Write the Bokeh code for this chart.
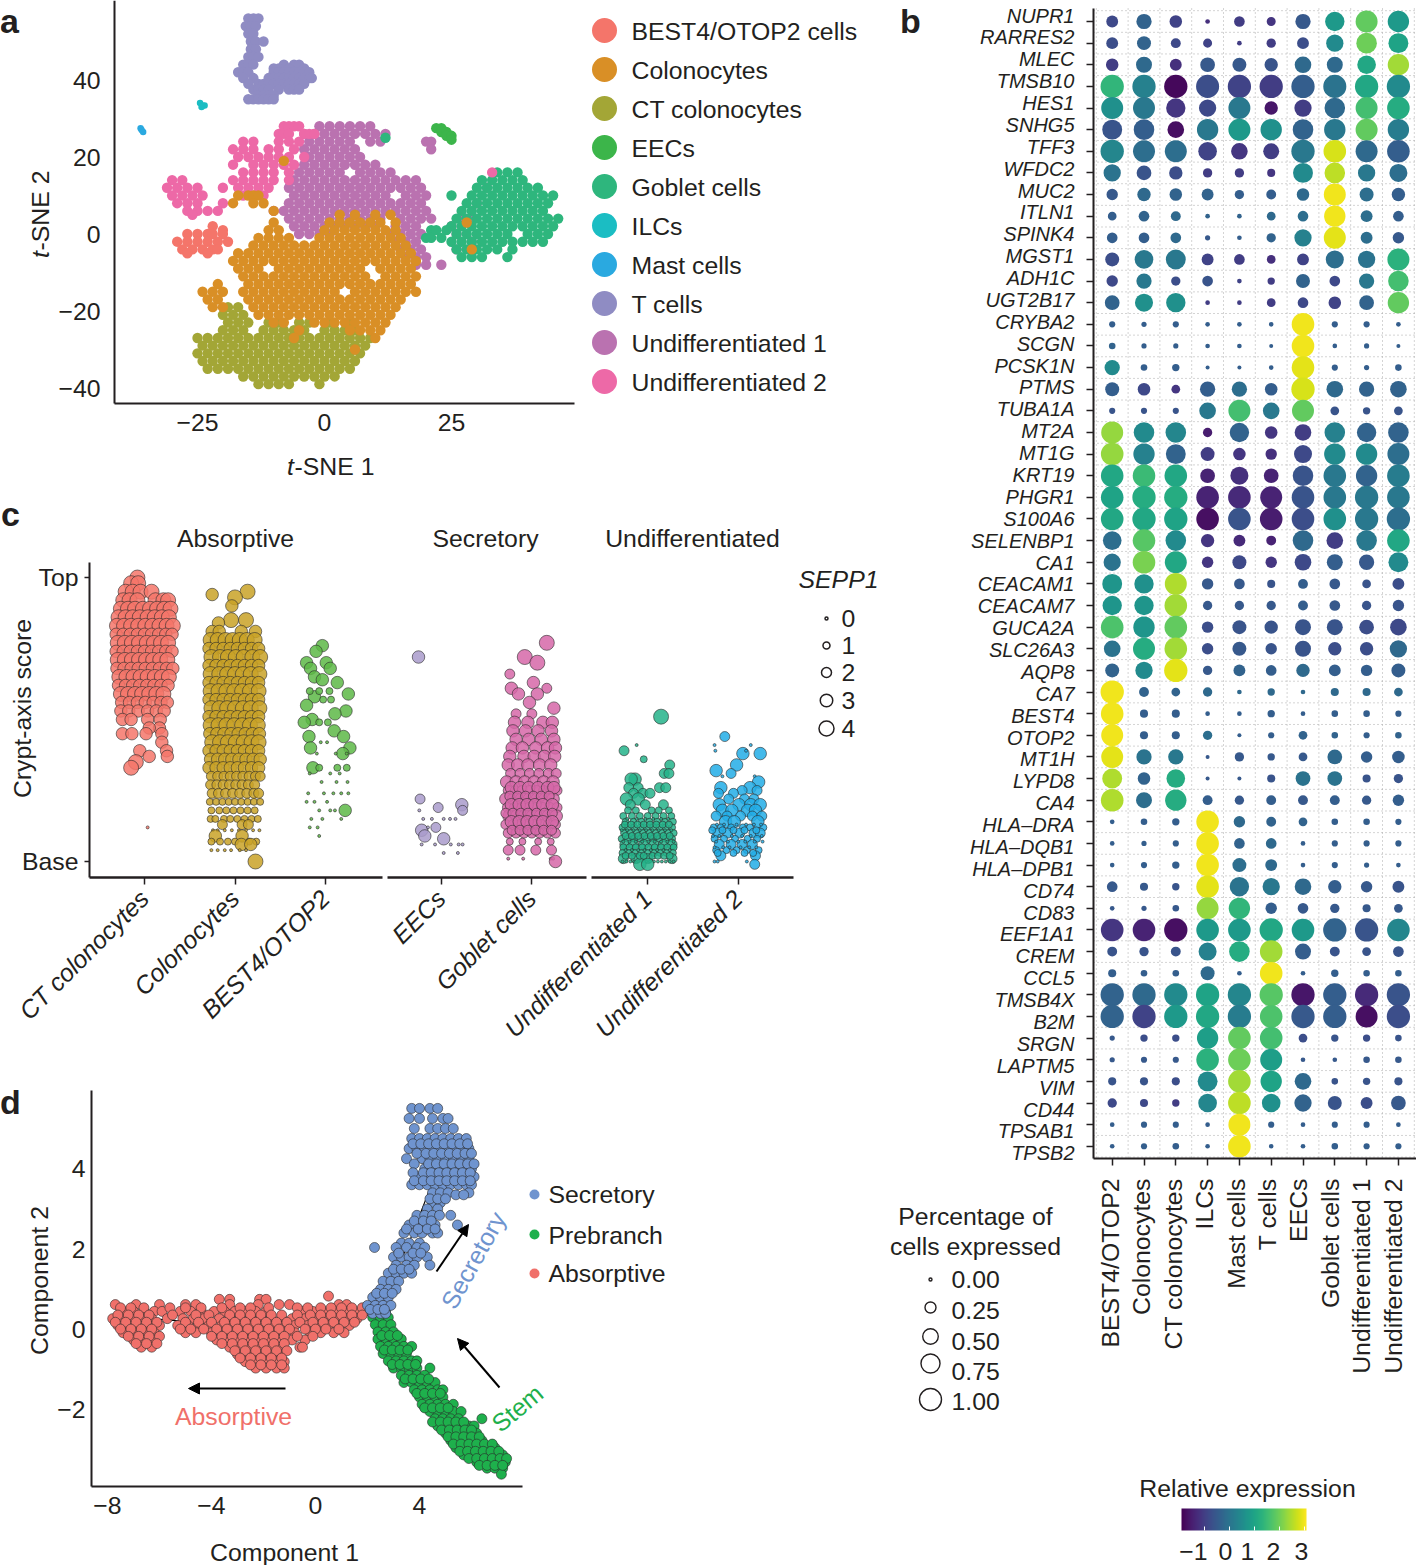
from math import sqrt, pi
from bokeh.plotting import figure
from bokeh.layouts import column, row
from bokeh.models import (Label, FixedTicker, LinearAxis, Range1d, ColumnDataSource, LinearColorMapper,
                          ColorBar, Arrow, NormalHead)
from bokeh.palettes import Viridis256
from bokeh.transform import transform
from bokeh.embed import file_html
from bokeh.resources import INLINE

INK = "#231f20"
FONT = "Liberation Sans"
FS = "24.8px"

# ---------- panel a: t-SNE, rows of (t-SNE 2, [t-SNE 1 ...]) ----------
cell_types = ["BEST4/OTOP2 cells", "Colonocytes", "CT colonocytes", "EECs", "Goblet cells", "ILCs",
              "Mast cells", "T cells", "Undifferentiated 1", "Undifferentiated 2"]
cell_colors = ["#f4756a", "#d98f26", "#a3a636", "#3cb54a", "#2eb67d", "#1bbdc3", "#2aa9e0", "#8f8cc3", "#ba72b0", "#ed69a7"]

tsne_best4 = [(2, [-22]), (1, [-20]), (0, [-27, -25, -23, -22, -20]), (-2, [-29, -27, -25, -23, -21, -19]),
              (-4, [-28, -26, -24, -22, -21]), (-5, [-27, -23])]
tsne_colono = [(5, [3, 6, 10, 13]), (3, [-10, 1, 3, 5, 7, 9, 11, 14, 28]), (1, [-11, -9, 0, 2, 4, 6, 8, 10, 12, 14]),
               (-1, [-13, -11, -9, -7, -1, 1, 3, 5, 7, 9, 11, 13, 15]),
               (-3, [-14, -12, -10, -8, -6, -4, -2, 0, 2, 4, 6, 8, 10, 12, 14, 16]),
               (-5, [-17, -15, -13, -11, -9, -7, -5, -3, -1, 1, 3, 5, 7, 9, 11, 13, 15, 17]),
               (-7, [-18, -16, -14, -12, -10, -8, -6, -4, -2, 0, 2, 4, 6, 8, 10, 12, 14, 16, 18]),
               (-9, [-17, -15, -13, -9, -7, -5, -3, -1, 1, 3, 5, 7, 11, 13, 15, 17]),
               (-11, [-16, -14, -12, -10, -8, -6, -4, -2, 0, 2, 4, 6, 8, 12, 14, 16, 18]),
               (-13, [-21, -15, -13, -11, -9, -7, -5, -3, -1, 1, 3, 5, 7, 9, 11, 13, 15, 17]),
               (-15, [-24, -22, -20, -16, -14, -12, -10, -8, -6, -4, -2, 0, 2, 6, 8, 10, 12, 14, 16, 18]),
               (-17, [-23, -21, -15, -13, -11, -9, -7, -5, -3, -1, 1, 3, 5, 7, 9, 11, 13, 15]),
               (-19, [-22, -20, -14, -12, -10, -8, -6, -4, -2, 0, 2, 4, 6, 8, 10, 12, 14]),
               (-21, [-13, -11, -9, -7, -5, -3, -1, 1, 3, 5, 7, 9, 11, 13]),
               (-23, [-10, -8, -2, 0, 2, 4, 6, 8, 10, 12]), (-25, [-5, 5, 7, 9, 11]), (-27, [-6, 10]), (-30, [6]),
               (10, [-17, -15, -14, -13]), (8, [-18, -14, -12]), (19, [-8]), (6, [-10]), (-4, [29])]
tsne_ct = [(-19, [-19, -17]), (-21, [-20, -18, -16]),
           (-23, [-19, -17, -15, -11, -9, -5, -3, 1, 5]),
           (-25, [-20, -18, -16, -12, -10, -8, -6, -4, 0, 2, 4, 6]),
           (-27, [-25, -23, -21, -19, -17, -15, -13, -11, -9, -7, -5, -3, -1, 1, 3, 5, 7, 9]),
           (-29, [-24, -22, -20, -18, -16, -14, -12, -10, -8, -6, -4, -2, 0, 2, 4, 6, 8]),
           (-31, [-25, -23, -21, -19, -17, -15, -13, -11, -9, -7, -5, -3, -1, 1, 3, 5, 7]),
           (-33, [-24, -22, -20, -18, -16, -14, -12, -10, -8, -6, -4, -2, 0, 2, 4, 6]),
           (-35, [-23, -21, -19, -17, -15, -13, -11, -9, -7, -5, -3, -1, 1, 3, 5]),
           (-37, [-16, -14, -12, -10, -8, -6, -4, -2, 0, 2]), (-39, [-13, -11, -9, -7, -1])]
tsne_eec = [(27.5, [22, 23]), (26.5, [23, 24]), (25.5, [24, 25]), (24.5, [25])]
tsne_goblet = [(16, [34, 36, 38]), (14, [31, 33, 35, 37, 39]), (12, [30, 32, 34, 36, 38, 40, 42]),
               (10, [25, 29, 31, 33, 35, 37, 39, 41, 43, 45]), (8, [28, 30, 32, 34, 36, 38, 40, 42, 44]),
               (6, [27, 29, 31, 33, 35, 37, 39, 41, 43]), (4, [26, 28, 30, 32, 34, 36, 38, 40, 42, 44, 46]),
               (2, [25, 27, 29, 31, 33, 35, 37, 39, 41, 43, 45]), (0, [26, 28, 30, 32, 34, 36, 40, 42, 44]),
               (-2, [25, 27, 29, 31, 33, 35, 37, 39, 41, 43]), (-4, [26, 28, 30, 32, 34, 37]), (-6, [27, 29, 31, 36]),
               (1, [21, 22, 24]), (-1, [20, 21, 23]), (25, [12])]
tsne_ilc = [(34, [-24.5]), (33.4, [-24, -23.6]), (33, [-24.2])]
tsne_mast = [(27.5, [-36.2]), (27, [-36]), (26.5, [-35.7])]
tsne_t = [(56, [-15, -14, -13]), (54, [-15.5, -14.5, -13.5]), (52, [-15, -14]), (50, [-14.5, -13.5, -12]),
          (48, [-14.5, -13.5]), (46, [-15, -14, -13]), (44, [-16, -15, -14, -8, -6, -5]),
          (43, [-10, -9, -7, -4]), (42, [-17, -16, -15, -10, -9, -8, -7, -6, -5, -4, -3]),
          (40.5, [-16, -14, -11, -10, -9, -8, -7, -6, -5, -4, -3, -2.5]),
          (39, [-15, -13, -12, -11, -10, -9, -8, -7, -6, -5, -4]), (37.5, [-14, -13, -12, -11, -9, -7, -6, -5]),
          (36, [-13, -12, -11, -10]), (35, [-15, -14, -13, -12, -11, -10])]
tsne_u1 = [(28, [-1, 1, 3, 5, 7, 9]), (26, [-4, -2, 0, 2, 4, 6, 8, 10, 12]), (24, [-3, -1, 1, 3, 5, 9, 11, 20, 21]),
           (22, [-4, -2, 0, 2, 4, 6, 21]), (20, [-3, -1, 1, 3, 5, 7]), (18, [-4, -2, 0, 2, 4, 6, 8, 10]),
           (16, [-5, -3, -1, 1, 3, 7, 9, 11, 13]), (14, [-6, -4, -2, 0, 2, 4, 6, 8, 10, 12, 14, 16, 18]),
           (12, [-7, -5, -3, -1, 1, 3, 5, 7, 9, 11, 13, 15, 17, 19, 32]),
           (10, [-6, -4, -2, 0, 2, 4, 6, 8, 10, 12, 16, 18, 20]),
           (8, [-7, -5, -3, -1, 1, 3, 5, 7, 9, 11, 13, 15, 17, 19, 30]),
           (6, [-10, -8, -6, -4, -2, 0, 2, 4, 6, 8, 10, 12, 14, 16, 18, 20]),
           (4, [-7, -5, -3, -1, 1, 3, 5, 7, 9, 11, 15, 17, 19, 21, 27, 29]),
           (2, [-6, -4, -2, 0, 2, 4, 6, 8, 10, 14, 16, 18, 25]), (0, [-5, -3, -1, 1, 13, 15, 17, 19, 26]),
           (-2, [14, 16, 18, 29]), (-4, [15, 17, 19, 26]), (-6, [16, 18, 20]), (-8, [18, 20, 23])]
tsne_u2 = [(28, [-8, -7, -6, -5]), (26, [-9, -8, -7, -4, -3, -2]), (24, [-16, -14, -9, -7, -5]),
           (22, [-18, -16, -14, -11, -9, -6]), (20, [-17, -15, -13, -11, -9, -7, -4]),
           (18, [-18, -14, -12, -10, -8, -6]), (16, [-16, -14, -12, -10, -7, 33]),
           (14, [-18, -16, -14, -12, -10, -7, -30, -28]), (12, [-17, -15, -13, -11, -31, -29, -27, -25, -20]),
           (10, [-16, -14, -12, -30, -28, -26, -24]), (8, [-29, -27, -25, -20]), (6, [-27, -25, -23, -21]), (5, [-26])]

# ---------- panel b: dot plot ----------
b_cells = ["BEST4/OTOP2", "Colonocytes", "CT colonocytes", "ILCs", "Mast cells", "T cells", "EECs", "Goblet cells",
           "Undifferentiated 1", "Undifferentiated 2"]
genes = ["NUPR1", "RARRES2", "MLEC", "TMSB10", "HES1", "SNHG5", "TFF3", "WFDC2", "MUC2", "ITLN1", "SPINK4", "MGST1",
         "ADH1C", "UGT2B17", "CRYBA2", "SCGN", "PCSK1N", "PTMS", "TUBA1A", "MT2A", "MT1G", "KRT19", "PHGR1", "S100A6",
         "SELENBP1", "CA1", "CEACAM1", "CEACAM7", "GUCA2A", "SLC26A3", "AQP8", "CA7", "BEST4", "OTOP2", "MT1H", "LYPD8",
         "CA4", "HLA\u2013DRA", "HLA\u2013DQB1", "HLA\u2013DPB1", "CD74", "CD83", "EEF1A1", "CREM", "CCL5", "TMSB4X",
         "B2M", "SRGN", "LAPTM5", "VIM", "CD44", "TPSAB1", "TPSB2"]
pct_expressed = [
    [26, 43, 29, 4, 21, 15, 43, 69, 89, 84], [26, 36, 18, 15, 4, 16, 26, 55, 78, 73],
    [29, 47, 26, 40, 36, 33, 51, 47, 64, 84], [100, 100, 100, 98, 100, 100, 100, 98, 100, 100],
    [89, 89, 69, 55, 89, 33, 55, 78, 89, 94], [73, 78, 51, 84, 89, 84, 78, 84, 89, 84],
    [100, 89, 89, 64, 51, 47, 100, 94, 89, 94], [55, 40, 33, 16, 16, 12, 73, 78, 55, 60],
    [24, 33, 29, 26, 16, 18, 29, 89, 36, 33], [14, 21, 18, 4, 4, 14, 21, 84, 26, 21],
    [21, 21, 21, 5, 4, 16, 55, 89, 26, 24], [36, 64, 73, 26, 21, 14, 26, 60, 55, 89],
    [24, 43, 16, 21, 4, 10, 36, 21, 43, 78], [40, 60, 69, 4, 4, 14, 21, 29, 40, 84],
    [7, 5, 7, 4, 4, 4, 94, 7, 7, 4], [8, 5, 5, 4, 4, 3, 94, 4, 5, 3],
    [43, 8, 10, 3, 3, 4, 94, 7, 5, 8], [36, 29, 14, 43, 43, 29, 100, 51, 43, 51],
    [7, 7, 7, 51, 89, 51, 89, 14, 10, 14], [89, 78, 78, 16, 69, 29, 51, 78, 69, 78],
    [94, 84, 73, 36, 29, 24, 60, 84, 84, 89], [94, 94, 94, 40, 60, 40, 78, 94, 84, 94],
    [94, 100, 100, 94, 94, 89, 94, 94, 100, 94], [94, 100, 100, 94, 94, 94, 94, 94, 100, 100],
    [64, 94, 78, 33, 26, 18, 78, 51, 78, 94], [55, 94, 89, 24, 36, 24, 51, 47, 43, 73],
    [73, 69, 89, 24, 21, 12, 18, 21, 14, 26], [69, 69, 94, 16, 16, 16, 18, 21, 16, 24],
    [94, 84, 94, 24, 36, 33, 47, 47, 40, 51], [51, 89, 94, 24, 36, 24, 47, 33, 33, 55],
    [36, 55, 100, 16, 26, 21, 33, 26, 24, 36], [100, 18, 14, 16, 4, 10, 4, 12, 12, 14],
    [94, 12, 12, 4, 4, 10, 4, 8, 8, 7], [89, 12, 12, 16, 3, 7, 14, 8, 7, 8],
    [89, 43, 43, 3, 16, 10, 14, 40, 24, 29], [73, 29, 64, 3, 3, 12, 40, 40, 12, 16],
    [94, 47, 84, 18, 16, 18, 18, 18, 16, 24], [4, 8, 10, 94, 24, 18, 14, 8, 8, 7],
    [4, 5, 7, 94, 21, 21, 4, 7, 7, 7], [4, 7, 10, 94, 36, 26, 4, 7, 5, 4],
    [21, 12, 10, 94, 69, 55, 51, 33, 24, 26], [4, 5, 8, 89, 84, 24, 21, 16, 12, 14],
    [94, 94, 100, 94, 94, 100, 94, 100, 100, 94], [18, 16, 18, 60, 78, 94, 47, 18, 14, 21],
    [12, 8, 8, 36, 4, 94, 4, 10, 8, 8], [100, 100, 100, 100, 100, 100, 100, 100, 100, 100],
    [100, 100, 100, 100, 100, 94, 100, 100, 89, 100], [5, 10, 10, 84, 94, 94, 14, 10, 10, 8],
    [5, 7, 7, 94, 94, 89, 4, 4, 8, 8], [12, 12, 12, 73, 94, 84, 51, 8, 10, 12],
    [16, 12, 10, 64, 94, 64, 55, 36, 26, 40], [4, 7, 7, 4, 89, 7, 4, 7, 7, 4], [4, 7, 8, 4, 94, 4, 4, 8, 7, 7]]
rel_expression = [
    [-.8, -.3, -.9, -1.2, -1, -1.1, -.5, .8, 1.9, .8], [-.7, -.3, -.8, -.9, -1, -1, -.7, .5, 2, 1],
    [-1, -.2, -1.2, -.5, -.5, -.6, -.2, -.2, 1.1, 2.4], [1.4, .3, -1.8, -.7, -.9, -1, -.4, 0, 1.1, .5],
    [.6, .1, -1.1, -.8, .1, -1.6, -1, -.2, 1.6, 1.2], [-.6, -.4, -1.7, .1, .8, .6, -.3, .1, 1.9, .2],
    [.4, -.1, -.1, -.9, -1.1, -1, .1, 2.8, -.2, -.4], [0, -.6, -.7, -1, -1, -1.1, .5, 2.6, .1, -.1],
    [-.5, -.2, -.3, -.3, -.4, -.4, -.2, 3, -.1, -.4], [-.4, -.3, -.2, -.3, -.3, -.2, -.1, 3, -.1, -.4],
    [-.4, -.4, -.2, -.5, -.4, -.3, .3, 2.9, -.1, -.5], [-.7, .1, .1, -.9, -1, -1.2, -.9, -.1, 0, 1.3],
    [-.8, .1, -.7, -.6, -.9, -1, -.3, -.8, .1, 1.6], [-.3, .6, .6, -1, -1, -1, -.8, -.9, -.3, 1.9],
    [-.4, -.4, -.4, -.4, -.4, -.4, 3, -.4, -.4, -.4], [-.3, -.4, -.4, -.4, -.4, -.4, 3, -.4, -.4, -.4],
    [.5, -.4, -.4, -.4, -.4, -.4, 2.9, -.4, -.4, -.4], [-.4, -.8, -1.1, -.4, -.1, -.4, 2.8, -.2, -.3, -.3],
    [-.6, -.6, -.6, .1, 1.6, .1, 1.9, -.6, -.6, -.6], [2.3, .5, .4, -1.5, -.3, -1.1, -1, .3, -.3, -.3],
    [2.3, .3, -.3, -1, -1.1, -1.2, -.8, .5, .5, -.1], [1.1, 1.5, 1.1, -1.4, -1.2, -1.4, -.6, .1, -.3, .2],
    [1, 1.2, 1.2, -1.4, -1.3, -1.4, -.6, .1, .1, .1], [1.1, 1.1, 1, -1.7, -.6, -1.5, -.7, .6, .1, -.1],
    [-.1, 1.8, .5, -1.1, -1.3, -1.4, -.2, -1, .1, 1.1], [0, 2.1, 1.1, -1.1, -.8, -1.1, -.8, -.4, -.5, .5],
    [.7, .6, 2.5, -.5, -.5, -.6, -.4, -.5, -.6, -.7], [.7, .7, 2.4, -.5, -.5, -.5, -.4, -.5, -.6, -.6],
    [1.7, .7, 1.9, -.7, -.6, -.6, -.6, -.6, -.7, -.8], [0, 1.2, 2.4, -.7, -.5, -.6, -.6, -.7, -.7, -.2],
    [-.3, .5, 2.9, -.5, -.3, -.4, -.2, -.4, -.4, -.4], [3, -.3, -.3, -.2, -.2, -.2, -.2, -.2, -.2, -.2],
    [3, -.4, -.4, -.4, -.4, -.4, -.4, -.4, -.4, -.4], [3, -.4, -.4, -.1, -.4, -.4, -.3, -.3, -.4, -.3],
    [2.9, 0, .1, -.5, -.5, -.5, -.5, -.2, -.4, -.4], [2.5, -.3, 1.2, -.5, -.5, -.6, 0, 0, -.6, -.6],
    [2.5, -.1, 1.2, -.4, -.5, -.4, -.5, -.4, -.5, -.4], [-.4, -.4, -.4, 3, -.2, -.3, -.3, -.4, -.4, -.4],
    [-.4, -.4, -.4, 3, -.3, -.2, -.4, -.4, -.4, -.4], [-.4, -.4, -.4, 3, -.1, -.2, -.4, -.4, -.4, -.4],
    [-.5, -.5, -.6, 2.9, 0, .1, -.2, -.4, -.5, -.6], [-.5, -.5, -.5, 2.3, 1.4, -.4, -.5, -.5, -.5, -.5],
    [-1.1, -1.4, -1.7, .8, .8, 1.1, .8, -.3, -.6, .4], [-.6, -.6, -.6, .3, 1.2, 2.4, -.4, -.6, -.6, -.6],
    [-.4, -.4, -.4, -.2, -.4, 3, -.4, -.4, -.4, -.4], [-.3, -.2, .5, 1, .4, 1.8, -1.6, -.4, -1.3, -.6],
    [-.3, -.9, .8, 1.1, .2, 1.7, -.5, -.4, -1.7, -.7], [-.5, -.7, -.7, .9, 1.9, 1.6, -.7, -.6, -.7, -.6],
    [-.5, -.5, -.5, 1.3, 2, .9, -.5, -.5, -.5, -.5], [-.6, -.6, -.7, .5, 2.4, 1, -.2, -.6, -.6, -.6],
    [-.8, -.8, -1, .4, 2.6, .6, -.3, -.6, -.7, -.5], [-.4, -.4, -.4, -.4, 3, -.4, -.4, -.4, -.4, -.4],
    [-.4, -.4, -.4, -.4, 3, -.4, -.4, -.4, -.4, -.4]]
pct_legend = [0.0, 0.25, 0.5, 0.75, 1.0]
expr_ticks = [-1, 0, 1, 2, 3]

# ---------- panel c: rows of (crypt-axis score, SEPP1 level, [jitter in hundredths]) ----------
c_groups = ["CT colonocytes", "Colonocytes", "BEST4/OTOP2", "EECs", "Goblet cells", "Undifferentiated 1", "Undifferentiated 2"]
c_slots = [1, 2, 3, 4.28, 5.28, 6.56, 7.56]
c_colors = ["#f4756a", "#c9a227", "#5db946", "#a99bcb", "#d667a8", "#25b38a", "#22ade6"]
ct_scores = [(100, 4, [-9]), (98, 4, [-17, -8]), (95, 4, [-24, -15, -5, 9]), (92, 4, [-27, -19, -9, 14, 24, 30]),
             (89, 4, [-30, -21, -12, -2, 7, 16, 25, 33]), (86, 4, [-33, -24, -15, -6, 4, 13, 22, 31]),
             (83, 4, [-35, -26, -17, -8, 1, 10, 19, 28, 36]), (80, 3, [-36, -27, -18, -9, 0, 9, 18, 27, 35]),
             (77, 4, [-34, -25, -16, -7, 3, 12, 21, 30]), (74, 3, [-36, -27, -18, -9, 0, 9, 18, 27, 35]),
             (71, 4, [-34, -25, -16, -7, 2, 11, 20, 29]), (68, 3, [-35, -26, -17, -8, 1, 10, 19, 28, 36]),
             (65, 4, [-32, -23, -14, -5, 4, 13, 22, 31]), (62, 3, [-33, -24, -15, -6, 3, 12, 21, 30]),
             (59, 4, [-30, -21, -12, -3, 6, 15, 24]), (56, 3, [-29, -19, -9, 1, 11, 21, 29]),
             (53, 3, [-30, -20, -8, 4, 15, 25]), (50, 3, [-28, -17, 4, 20]), (47, 3, [19, 6]),
             (45, 3, [-28, -16, 2, 22]), (42, 3, [22]), (39, 3, [-6, 28]), (37, 3, [6, 29]), (35, 4, [-11]), (33, 4, [-17]),
             (12, 0, [4])]
col_scores = [(95, 4, [16]), (94, 3, [-29]), (93, 4, [0]), (90, 3, [-4]), (85, 4, [-5, 14]), (84, 3, [-21]),
              (81, 3, [-29, -20, 8, 26]), (78, 4, [-31, -22, -12, -3, 6, 15, 25]),
              (75, 3, [-33, -24, -15, -6, 3, 12, 21, 30]), (72, 4, [-30, -19, -9, 1, 11, 22, 32]),
              (69, 3, [-33, -24, -15, -6, 3, 12, 21, 30]), (66, 4, [-31, -20, -10, 0, 10, 20, 31]),
              (63, 3, [-33, -24, -15, -6, 3, 12, 21, 30]), (60, 4, [-31, -21, -11, -1, 9, 19, 30]),
              (57, 3, [-33, -24, -15, -6, 3, 12, 21, 30]), (54, 4, [-30, -20, -10, 0, 10, 20, 31]),
              (51, 3, [-33, -24, -15, -6, 3, 12, 21, 30]), (48, 4, [-31, -21, -11, -1, 9, 19, 29]),
              (45, 3, [-32, -23, -14, -5, 4, 13, 22, 31]), (42, 4, [-29, -19, -9, 1, 11, 21, 30]),
              (39, 3, [-33, -24, -15, -6, 3, 12, 21, 30]), (36, 3, [-31, -22, -13, -4, 5, 14, 23, 32]),
              (33, 3, [-33, -24, -15, -6, 3, 12, 21, 30]), (30, 2, [-30, -22, -14, -6, 2, 10, 18, 26, 32]),
              (27, 2, [-31, -23, -15, -7, 1, 9, 17, 25]), (24, 2, [-29, -21, -12, -3, 6, 15, 24, 30]),
              (21, 1, [-32, -24, -16, -8, 0, 8, 16, 24, 32]), (18, 1, [-30, -20, -11, -2, 7, 16, 25]),
              (15, 1, [-31, -25, -14, -6, 3, 12, 21, 29]), (13, 2, [-16, 9, 17]), (11, 0, [-28, -22, -13, -4, 5, 14, 23, 31]),
              (9, 3, [-25, 9]), (7, 1, [-30, -19, -9, 0, 18, 27]), (6, 3, [8, 20]), (4, 0, [-30, -22, -13, -5, 6, 14]),
              (0, 4, [26])]
best4_scores = [(76, 3, [-4]), (74, 3, [-12]), (70, 3, [-24, 1]), (68, 3, [-19, 6]), (65, 3, [-14]), (64, 3, [-4]),
                (63, 3, [15]), (59, 3, [29]), (58, 3, [-14]), (55, 3, [-24]), (53, 3, [26]), (52, 3, [12]), (50, 3, [-17]),
                (49, 3, [-27]), (46, 3, [11]), (44, 3, [-21, 23]), (40, 3, [-19, 31]), (38, 3, [22]), (33, 3, [-16]), (18, 3, [25]),
                (60, 1, [-20, -8, 5]), (57, 1, [-3, 7]), (49, 1, [-8, 3]), (42, 0, [-6, 2]), (38, 0, [-11, 13, 27]),
                (33, 1, [-8, 15, 27]), (31, 0, [-20, 6, 18]), (28, 0, [-5, 14, 28]), (24, 0, [-22, -2, 10, 20, 29]),
                (21, 0, [-24, -14, 2]), (18, 0, [-8, 6, 12]), (15, 0, [-18, -4, 20]), (12, 0, [-20, -10]), (9, 0, [-8])]
eec_scores = [(72, 3, [-29]), (22, 2, [-27]), (20, 3, [26]), (19, 2, [-4]), (18, 2, [27]), (11, 3, [-25]), (9, 3, [-21]),
              (12, 2, [-7]), (8, 3, [3]), (18, 0, [-28]), (15, 0, [-23, -12, 3, 11, 18]), (12, 0, [-17]),
              (6, 0, [-25, -8, 12, 22, 27]), (3, 0, [3, 21])]
goblet_scores = [(77, 4, [19]), (72, 4, [-9]), (70, 4, [7]), (66, 2, [-28]), (63, 3, [2]), (61, 2, [19]), (61, 3, [-26]),
                 (59, 3, [7, -17]), (56, 3, [-3]), (54, 3, [28]), (52, 2, [-20, 0]), (49, 3, [-22, -5, 14, 26]),
                 (46, 3, [-24, -8, 8, 25]), (43, 3, [-20, -4, 12, 28]), (40, 3, [-25, -12, 5, 20, 30]),
                 (37, 3, [-28, -10, 3, 16, 29]), (34, 3, [-30, -18, -5, 10, 24]), (31, 2, [-27, -15, -3, 9, 21, 31]),
                 (28, 3, [-32, -20, -9, 3, 15, 27]), (25, 2, [-30, -21, -12, -3, 6, 15, 24, 32]),
                 (22, 3, [-33, -23, -13, -3, 7, 17, 27]), (19, 2, [-31, -22, -13, -4, 5, 14, 23, 32]),
                 (16, 3, [-29, -19, -9, 1, 11, 21, 31]), (13, 2, [-33, -24, -15, -6, 3, 12, 21, 30]),
                 (10, 2, [-30, -20, -10, 0, 10, 20, 30]), (7, 1, [-28, -12, 8, 24]), (4, 2, [-30, -15, 5, 25]),
                 (1, 0, [-30, -11, 24, 27]), (0, 3, [30]),
                 (26, 3, [-26, -15, -4, 8, 20, 28]), (23, 2, [-28, -18, -8, 2, 12, 22]), (20, 3, [-26, -16, -6, 4, 14, 26]),
                 (17, 2, [-33, -24, -14, -5, 6, 16, 26]), (14, 3, [-26, -16, -6, 4, 14, 26]), (11, 2, [-25, -15, -5, 5, 15, 25])]
u1_scores = [(51, 4, [17]), (39, 2, [-30]), (41, 0, [-14]), (36, 1, [-5]), (34, 2, [28]), (31, 2, [21, 27]), (29, 3, [-16, -21]),
             (26, 2, [-24, -12, 15, 23]), (24, 2, [-18, -6, 3]), (22, 3, [-27, -12]), (20, 2, [-22, -3, 20]),
             (18, 1, [-25, -15, 5, 14, 27]), (16, 1, [-31, -20, -10, 0, 10, 20, 30]), (14, 1, [-28, -18, -8, 2, 12, 22, 32]),
             (12, 1, [-32, -25, -17, -9, -1, 7, 15, 23, 31]), (10, 1, [-30, -22, -14, -6, 2, 10, 18, 26, 33]),
             (8, 1, [-33, -25, -17, -9, -1, 7, 15, 23, 31]), (6, 2, [-29, -18, -5, 8, 20, 31]),
             (5, 1, [-31, -23, -15, -7, 1, 9, 17, 25, 33]), (3, 1, [-32, -24, -16, -8, 0, 8, 16, 24, 32]),
             (1, 2, [-31, -15, 0, 31]), (0, 0, [-32, -27, -22, -17, -12, -7, -2, 3, 8, 13, 18, 23, 28, 33]), (-1, 3, [-10, 0]),
             (15, 0, [-26, -14, -3, 7, 17, 26]), (13, 1, [-29, -21, -13, -5, 3, 11, 19, 27]), (11, 0, [-33, -26, -18, -10, -2, 6, 14, 22, 30]),
             (9, 1, [-28, -20, -12, -4, 4, 12, 20, 28]), (7, 0, [-31, -23, -15, -7, 1, 9, 17, 25, 33]),
             (4, 0, [-28, -20, -12, -4, 4, 12, 20, 28]), (2, 1, [-28, -20, -10, -5, 6, 13, 21, 28])]
u2_scores = [(44, 2, [-17]), (41, 0, [-30, 16]), (38, 3, [28, 6]), (39, 0, [-29, 10]), (34, 3, [-2]), (32, 3, [-28]), (31, 2, [-9]),
             (30, 0, [21, -20]), (28, 3, [26]), (26, 3, [-22, 15]), (25, 2, [5, 24]), (24, 2, [-25, -6]),
             (22, 2, [-12, 8, 20]), (20, 3, [-24, 1, 16, 28]), (18, 3, [-20, -8, 12, 22]), (16, 2, [-28, -14, 3, 18, 30]),
             (14, 3, [-16, -5, 25]), (12, 1, [-31, -22, -9, 6, 15, 32]), (10, 2, [-26, -13, 2, 20, 28]),
             (8, 1, [-30, -18, -4, 12, 24]), (6, 2, [-24, -9, 5, 18]), (4, 1, [-28, -15, -2, 11, 26]), (2, 2, [-22, 22]),
             (0, 0, [-30, -26, 11]), (-1, 2, [21]),
             (13, 0, [-27, -18, -2, 10, 20, 29]), (11, 1, [-33, -20, -6, 8, 23]), (9, 0, [-32, -24, -8, 5, 16, 30]),
             (7, 0, [-28, -13, 0, 9, 21, 31]), (5, 0, [-30, -19, -11, 3, 14, 23]), (3, 1, [-26, -6, 8, 19])]
sepp1_levels = [0, 1, 2, 3, 4]

# ---------- panel d: rows of (component 2, [component 1 ...]) ----------
state_names = ["Secretory", "Prebranch", "Absorptive"]
state_colors = ["#6f94cf", "#1eb04c", "#f0706a"]
secretory = [(5.5, [3.7, 4, 4.4, 4.7]), (5.25, [3.6, 4, 4.5, 4.9, 5.1]), (5, [3.8, 4.4, 4.7, 5, 5.3]),
             (4.75, [3.7, 4, 4.3, 4.6, 4.9, 5.2, 5.5, 5.8]), (4.5, [3.6, 3.9, 4.2, 4.5, 4.8, 5.1, 5.4, 5.7, 5.9]),
             (4.25, [3.5, 4.1, 4.4, 4.7, 5, 5.3, 5.6, 5.9]), (4, [4.2, 4.5, 4.8, 5.1, 5.4, 5.7, 6]),
             (3.8, [3.9, 4.3, 4.6, 4.9, 5.2, 5.5, 5.8, 6.1]), (3.6, [3.7, 4, 4.3, 4.6, 4.9, 5.2, 5.5, 5.8, 6]),
             (3.4, [4.5, 4.8, 5.1, 5.9]), (3.35, [5.4, 5.7]), (3.15, [4.5, 4.8]), (3, [4.3, 4.7]), (2.84, [3.9, 4.2, 4.5, 4.77, 5.2]),
             (2.6, [3.6, 4, 4.3, 4.6, 5.46]), (2.4, [3.4, 3.8, 4.1, 4.5, 4.7]), (2.15, [3.3, 3.6, 4]),
             (2.04, [2.27, 3.1, 3.5, 3.9, 4.2]), (1.8, [3, 3.3, 3.6, 3.9, 4.3]), (1.6, [3.1, 3.5, 3.8, 4.4]),
             (1.4, [2.8, 3.1, 3.4, 3.7]), (1.2, [2.6, 2.9, 3.2]), (1, [2.5, 2.8, 3.1]), (.8, [2.2, 2.5, 2.8]),
             (.6, [2, 2.3, 2.6, 2.9]), (.4, [2.2, 2.5, 2.7]),
             (4.62, [3.75, 4.05, 4.35, 4.65, 4.95, 5.25, 5.55, 5.85]), (4.38, [3.9, 4.25, 4.55, 4.85, 5.15, 5.45, 5.75, 6]),
             (4.12, [3.8, 4.35, 4.65, 4.95, 5.25, 5.55, 5.85, 6.1]), (3.9, [3.75, 4.15, 4.45, 4.75, 5.05, 5.35, 5.65, 5.95]),
             (3.7, [3.8, 4.15, 4.45, 4.75, 5.05, 5.35, 5.65, 5.95]), (3.25, [4.4, 4.7, 5]), (2.7, [3.8, 4.15, 4.45]),
             (2.5, [3.5, 3.95, 4.3, 4.6]), (1.9, [3.2, 3.75, 4.05]), (1.5, [3, 3.3, 3.6]), (.9, [2.35, 2.65, 2.95]), (.5, [2.1, 2.4, 2.65])]
prebranch = [(.47, [2.3, 2.7]), (.3, [2.2, 2.5, 2.8]), (.12, [2.3, 2.6, 2.9]), (-.06, [2.4, 2.7, 3]), (-.24, [2.4, 2.7, 3, 3.3]),
             (-.42, [2.5, 2.8, 3.1, 3.4, 3.7]), (-.6, [2.6, 2.9, 3.2, 3.5]), (-.78, [2.8, 3.1, 3.4, 3.7, 3.9]),
             (-.96, [3, 3.3, 3.6, 3.9, 4.4]), (-1.14, [3.3, 3.6, 3.9, 4.2]), (-1.32, [3.4, 3.7, 4, 4.3, 4.6]),
             (-1.5, [3.8, 4.1, 4.4, 4.7, 4.9]), (-1.68, [4, 4.3, 4.6, 4.9]), (-1.86, [4.1, 4.4, 4.7, 5, 5.3]),
             (-2.04, [4.4, 4.7, 5, 5.3, 5.6]), (-2.22, [4.6, 4.9, 5.2, 5.5, 6.4]), (-2.4, [4.7, 5, 5.3, 5.6, 5.9, 6.1]),
             (-2.58, [5, 5.3, 5.6, 5.9, 6.2]), (-2.76, [5.2, 5.5, 5.8, 6.1, 6.4]), (-2.94, [5.4, 5.7, 6, 6.3, 6.6, 6.9]),
             (-3.12, [5.7, 6, 6.3, 6.6, 6.9, 7.2]), (-3.3, [6.2, 6.5, 6.8, 7.1, 7.3]), (-3.45, [6.6, 6.9, 7.2]), (-3.6, [7.15]),
             (-2.3, [4.5, 4.8, 5.1, 5.4, 5.7]), (-2.5, [4.85, 5.15, 5.45, 5.75, 6]), (-2.67, [5.1, 5.4, 5.7, 6, 6.3]),
             (-2.85, [5.3, 5.6, 5.9, 6.2, 6.5, 6.8]), (-3.03, [5.55, 5.85, 6.15, 6.45, 6.75, 7.05]),
             (-3.21, [5.9, 6.2, 6.5, 6.8, 7.1, 7.35]), (-3.38, [6.3, 6.6, 6.9, 7.2]), (-1.95, [4.2, 4.5, 4.8, 5.1]),
             (-1.59, [3.9, 4.2, 4.5, 4.8]), (-1.23, [3.45, 3.75, 4.05, 4.35]), (-.87, [2.95, 3.25, 3.55, 3.85]),
             (-.51, [2.65, 2.95, 3.25, 3.55]), (-.15, [2.55, 2.85, 3.15])]
absorptive = [(.83, [.5]), (.75, [-3.7, -3.3, -2.15, -1.9]), (.62, [-7.7, -6.9, -6, -5, -4.6, -3.3, -2.2, -1.4, -1, .9, 1.2]),
              (.45, [-7.4, -7, -6.6, -6.2, -5.9, -5.2, -4.8, -4.4, -3.9, -3.5, -3.1, -2.7, -2.3, -1.9, -.5, -.1, .3, .7, 1.1, 1.5, 1.9]),
              (.27, [-7.8, -7.5, -7.1, -6.7, -6.3, -5.7, -5.1, -4.7, -4.3, -3.7, -3.3, -2.9, -2.5, -2.1, -1.7, -1.3, -.9, -.4, 0, .4, .8, 1.2, 1.6]),
              (.1, [-7.6, -7.2, -6.8, -6.4, -6, -5.3, -4.9, -4.5, -4.1, -3.6, -3.2, -2.8, -2.4, -2, -1.6, -1.2, -.8, -.3, .1, .5, .9, 1.3]),
              (-.08, [-7.4, -7, -6.6, -6.2, -5, -4.6, -4, -3.6, -3.2, -2.8, -2.4, -2, -1.6, -1.2, -.8, -.2, .2, .7, 1.1]),
              (-.26, [-7, -6.6, -6.2, -3.8, -3.4, -3, -2.6, -2.2, -1.8, -1.4, -.9, -.4]),
              (-.44, [-6.7, -6.3, -3.3, -2.9, -2.5, -2.1, -1.7, -1.3, -.6, -.5]),
              (-.62, [-3, -2.6, -2.2, -1.8, -1.4]), (-.8, [-2.7, -2.3, -1.9, -1.5, -1.2]), (-.96, [-2.3, -1.9, -1.5, -1.2]),
              (.54, [-7.5, -7.1, -6.6, -5.6, -5, -4.4, -3.6, -2.9, -2.5, -1.8, -.7, -.3, .2, .6, 1, 1.4, 1.8]),
              (.36, [-7.6, -7.2, -6.8, -6.4, -5.5, -4.6, -4.1, -3.3, -2.9, -2.5, -2.1, -1.7, -1.3, -.7, -.2, .2, .6, 1, 1.4, 1.8]),
              (.18, [-7.7, -7.3, -6.9, -6.5, -6.1, -5, -4.5, -4, -3.5, -3.1, -2.7, -2.3, -1.9, -1.5, -1.1, -.6, -.1, .3, .7, 1.1, 1.5]),
              (.01, [-7.5, -7.1, -6.7, -6.3, -5.2, -4.8, -4.3, -3.8, -3.4, -3, -2.6, -2.2, -1.8, -1.4, -1, -.4, 0, .4, .9]),
              (-.17, [-7.2, -6.8, -6.4, -6, -4, -3.6, -3.2, -2.8, -2.4, -2, -1.6, -1.2, -.7, -.1]),
              (-.35, [-6.9, -6.5, -6.1, -3.6, -3.2, -2.8, -2.4, -2, -1.6, -1.2]),
              (-.53, [-3.1, -2.7, -2.3, -1.9, -1.5, -1.1]), (-.71, [-2.9, -2.5, -2.1, -1.7, -1.3]), (-.88, [-2.5, -2.1, -1.7, -1.3])]
trajectory_x = [-7, -5, -3, -1, 2, 3.5, 5]
trajectory_y = [.3, .2, 0, 0, .5, 2, 4.5]
stem_x = [2, 4, 7]
stem_y = [.5, -1.3, -3.3]


def rows_xy(rows):
    xs, ys = [], []
    for y, vals in rows:
        for x in vals:
            xs.append(x)
            ys.append(y)
    return xs, ys


def base_fig(w, h, xr, yr):
    # the frame fills the canvas (labels drawn outside a frame get clipped); axes sit at fixed locations
    p = figure(width=w, height=h, x_range=Range1d(*xr), y_range=Range1d(*yr), output_backend="svg", toolbar_location=None,
               min_border=0, min_border_left=0, min_border_right=0, min_border_top=0, min_border_bottom=0, frame_align=False)
    p.grid.visible = False
    p.outline_line_color = None
    return p


def put(p, mx, my, px, py, text, size=FS, color=INK, align="center", base="middle", angle=0, style="normal"):
    p.add_layout(Label(x=mx(px), y=my(py), text=text, text_font=FONT, text_font_size=size, text_color=color,
                       text_align=align, text_baseline=base, angle=angle, angle_units="deg", text_font_style=style))


def style_axis(ax, tick=0):
    ax.axis_line_color = INK
    ax.axis_line_width = 2
    ax.major_tick_line_color = INK
    ax.major_tick_line_width = 1.5
    ax.major_tick_in = 0
    ax.major_tick_out = tick
    ax.minor_tick_line_color = None
    ax.major_label_text_font = FONT
    ax.major_label_text_font_size = FS
    ax.major_label_text_color = INK


# ================= panel a =================
xa = lambda px: (px - 324) / 5.08
ya = lambda py: (233.5 - py) / 3.85
pa = base_fig(880, 495, (xa(0), xa(880)), (ya(495), ya(0)))
for rows, col in [(tsne_u1, 8), (tsne_ct, 2), (tsne_goblet, 4), (tsne_t, 7), (tsne_u2, 9), (tsne_best4, 0), (tsne_colono, 1), (tsne_eec, 3)]:
    xs, ys = rows_xy(rows)
    pa.scatter(xs, ys, size=10.4, fill_color=cell_colors[col], line_color=None)
for rows, col in [(tsne_ilc, 5), (tsne_mast, 6)]:
    xs, ys = rows_xy(rows)
    pa.scatter(xs, ys, size=6.5, fill_color=cell_colors[col], line_color=None)
style_axis(pa.xaxis[0]); style_axis(pa.yaxis[0])
pa.xaxis.ticker = FixedTicker(ticks=[-25, 0, 25])
pa.yaxis.ticker = FixedTicker(ticks=[-40, -20, 0, 20, 40])
pa.xaxis.fixed_location = ya(403)
pa.yaxis.fixed_location = xa(114)
pa.xaxis.bounds = (xa(114), xa(574))
pa.yaxis.bounds = (ya(403), ya(0))
pa.xaxis.major_label_standoff = 10
pa.yaxis.major_label_standoff = 14
pa.scatter([xa(604)] * 10, [ya(30 + 39 * i) for i in range(10)], size=25, fill_color=cell_colors, line_color=None)
for i, name in enumerate(cell_types):
    put(pa, xa, ya, 631, 31 + 39 * i, name, align="left")
put(pa, xa, ya, 290, 466, "t", style="italic")
put(pa, xa, ya, 294, 466, "-SNE 1", align="left")
put(pa, xa, ya, 40, 254, "t", angle=90, style="italic")
put(pa, xa, ya, 40, 250, "-SNE 2", angle=90, align="left")
put(pa, xa, ya, 9, 20, "a", size="34px", style="bold")

# ================= panel c =================
ux = 90.5
xc = lambda px: 1 + (px - 144) / ux
yc = lambda py: (861 - py) / 2.84
pc = base_fig(880, 585, (xc(0), xc(880)), (yc(1080), yc(495)))
sepp1_size = [3, 7, 10, 12.5, 15]
jitter_scale = 87 / 10000
for slot, col, rows in zip(c_slots, c_colors, [ct_scores, col_scores, best4_scores, eec_scores, goblet_scores, u1_scores, u2_scores]):
    xs, ys, ss = [], [], []
    for score, lvl, jit in rows:
        for j in jit:
            xs.append(slot + j * jitter_scale)
            ys.append(score)
            ss.append(sepp1_size[lvl])
    pc.scatter(xs, ys, size=ss, fill_color=col, fill_alpha=.85, line_color="#2a2a2a", line_width=.6)
style_axis(pc.xaxis[0], tick=7); style_axis(pc.yaxis[0], tick=5)
pc.xaxis.ticker = FixedTicker(ticks=c_slots)
pc.xaxis.major_label_overrides = dict(zip(c_slots, c_groups))
pc.yaxis.ticker = FixedTicker(ticks=[0, 100])
pc.yaxis.major_label_overrides = {0: "Base", 100: "Top"}
pc.xaxis.fixed_location = yc(877)
pc.yaxis.fixed_location = xc(89)
pc.yaxis.bounds = (yc(877), yc(562))
pc.xaxis.axis_line_color = None
pc.xaxis.major_label_orientation = pi / 4
pc.xaxis.major_label_text_font_style = "italic"
pc.xaxis.major_label_standoff = 10
pc.yaxis.major_label_standoff = 6
ybase = yc(877)
pc.segment([xc(89), xc(387), xc(591)], [ybase] * 3, [xc(382), xc(586), xc(793)], [ybase] * 3, line_color=INK, line_width=2.5)
for px, txt in [(235, "Absorptive"), (485, "Secretory"), (692, "Undifferentiated")]:
    put(pc, xc, yc, px, 538, txt)
put(pc, xc, yc, 22, 708, "Crypt-axis score", angle=90)
put(pc, xc, yc, 838, 579, "SEPP1", style="italic")
leg_py = [618, 645, 672, 700, 728]
pc.scatter([xc(826)] * 5, [yc(v) for v in leg_py], size=[sepp1_size[s] for s in sepp1_levels],
           fill_color="white", line_color=INK, line_width=1.5)
for lvl, v in zip(sepp1_levels, leg_py):
    put(pc, xc, yc, 848, v, str(lvl))
put(pc, xc, yc, 10, 513, "c", size="34px", style="bold")

# ================= panel d =================
xd = lambda px: (px - 315) / 26
yd = lambda py: (1329 - py) / 40.2
pd = base_fig(880, 485, (xd(0), xd(880)), (yd(1565), yd(1080)))
pd.line(trajectory_x, trajectory_y, line_color="black", line_width=1.2)
pd.line(stem_x, stem_y, line_color="black", line_width=1.2)
for rows, col in [(absorptive, 2), (prebranch, 1), (secretory, 0)]:
    xs, ys = rows_xy(rows)
    pd.scatter(xs, ys, size=10, fill_color=state_colors[col], line_color="#2a2a2a", line_width=.6)
style_axis(pd.xaxis[0]); style_axis(pd.yaxis[0])
pd.xaxis.ticker = FixedTicker(ticks=[-8, -4, 0, 4])
pd.yaxis.ticker = FixedTicker(ticks=[-2, 0, 2, 4])
pd.xaxis.fixed_location = yd(1486)
pd.yaxis.fixed_location = xd(91)
pd.xaxis.bounds = (xd(91), xd(522))
pd.yaxis.bounds = (yd(1486), yd(1090))
pd.xaxis.major_label_standoff = 10
pd.yaxis.major_label_standoff = 6
pd.scatter([xd(534)] * 3, [yd(v) for v in (1194, 1234, 1273)], size=10, fill_color=state_colors, line_color=None)
for name, v in zip(state_names, (1194, 1235, 1273)):
    put(pd, xd, yd, 548, v, name, align="left")
put(pd, xd, yd, 284, 1552, "Component 1")
put(pd, xd, yd, 39, 1280, "Component 2", angle=90)
put(pd, xd, yd, 233, 1416, "Absorptive", color=state_colors[2])
put(pd, xd, yd, 473, 1260, "Secretory", color=state_colors[0], angle=61)
put(pd, xd, yd, 517, 1408, "Stem", color=state_colors[1], angle=40)
for (a, b, c, d) in [(285, 1388, 188, 1388), (436, 1271, 468, 1224), (499, 1387, 457, 1338)]:
    pd.add_layout(Arrow(x_start=xd(a), y_start=yd(b), x_end=xd(c), y_end=yd(d), line_color="black", line_width=2,
                        end=NormalHead(size=11, fill_color="black", line_color="black")))
put(pd, xd, yd, 10, 1101, "d", size="34px", style="bold")

# ================= panel b =================
xb = lambda px: 1 + (px - 1111.7) / 31.8
yb = lambda py: 1 + (py - 21) / 21.63
mapper_expr = LinearColorMapper(palette=Viridis256, low=-1.9, high=3.1)
pb = base_fig(536, 1565, (xb(880), xb(1416)), (yb(1565), yb(0)))
n_rows, n_cols = len(genes), len(b_cells)
dx, dy, dp, de, ds = [], [], [], [], []
for r, (pr, er) in enumerate(zip(pct_expressed, rel_expression)):
    for c, (v, e) in enumerate(zip(pr, er)):
        dx.append(c + 1)
        dy.append(r + 1)
        dp.append(v)
        de.append(e)
        ds.append(max(3, 23.3 * sqrt(v / 100)))
gx = [i + .5 for i in range(n_cols + 1)]
gy = [i + .5 for i in range(n_rows + 1)]
pb.segment(gx, [yb(8)] * len(gx), gx, [yb(1158)] * len(gx), line_color="#a8a8a8", line_dash="1 3", line_width=1)
pb.segment([xb(1093)] * len(gy), gy, [xb(1416)] * len(gy), gy, line_color="#a8a8a8", line_dash="1 3", line_width=1)
pb.scatter("x", "y", size="s", source=ColumnDataSource(dict(x=dx, y=dy, s=ds, pct=dp, expr=de)),
           fill_color=transform("expr", mapper_expr), line_color=None)
# inner axes: line and ticks on the row / column positions
xin, yin = pb.xaxis[0], pb.yaxis[0]
style_axis(xin, tick=7); style_axis(yin, tick=7)
xin.ticker = FixedTicker(ticks=list(range(1, n_cols + 1)))
yin.ticker = FixedTicker(ticks=list(range(1, n_rows + 1)))
xin.major_label_overrides = {i: "" for i in range(1, n_cols + 1)}
yin.major_label_overrides = {i: "" for i in range(1, n_rows + 1)}
xin.fixed_location = yb(1158)
yin.fixed_location = xb(1093)
xin.bounds = (xb(1093), xb(1416))
yin.bounds = (yb(1158), yb(8))
# label axes: the labels run on a slightly different spacing from the dots
lab_step = 21.88
pb.extra_y_ranges = {"labels": Range1d((1565 - 15) / lab_step, (0 - 15) / lab_step)}
gene_axis = LinearAxis(y_range_name="labels", ticker=FixedTicker(ticks=list(range(n_rows))),
                       major_label_overrides=dict(enumerate(genes)), fixed_location=xb(1093))
style_axis(gene_axis)
gene_axis.axis_line_color = None
gene_axis.major_tick_line_color = None
gene_axis.major_label_text_font_size = "20px"
gene_axis.major_label_text_font_style = "italic"
gene_axis.major_label_standoff = 19
pb.add_layout(gene_axis, "left")
pb.extra_x_ranges = {"cols": Range1d((880 - 1110) / 31.4, (1416 - 1110) / 31.4)}
cell_axis = LinearAxis(x_range_name="cols", ticker=FixedTicker(ticks=list(range(n_cols))),
                       major_label_overrides=dict(enumerate(b_cells)), fixed_location=yb(1158))
style_axis(cell_axis)
cell_axis.axis_line_color = None
cell_axis.major_tick_line_color = None
cell_axis.major_label_orientation = pi / 2
cell_axis.major_label_standoff = 20
pb.add_layout(cell_axis, "below")
leg_cy = [1279, 1307, 1336, 1363, 1399]
leg_ty = [1279, 1310, 1341, 1371, 1401]
pb.scatter([xb(930)] * 5, [yb(v) for v in leg_cy], size=[max(3, 22 * sqrt(v)) for v in pct_legend],
           fill_color="white", line_color=INK, line_width=1.4)
for v, t in zip(pct_legend, leg_ty):
    put(pb, xb, yb, 951, t, f"{v:.2f}", align="left")
put(pb, xb, yb, 975, 1216, "Percentage of")
put(pb, xb, yb, 975, 1246, "cells expressed")
put(pb, xb, yb, 1247, 1488, "Relative expression")
put(pb, xb, yb, 910, 20, "b", size="34px", style="bold")
cb = ColorBar(color_mapper=mapper_expr, ticker=FixedTicker(ticks=expr_ticks), orientation="horizontal", width=125, height=22,
              location=(1181 - 880, 35), padding=0, margin=0, major_tick_line_color="white", major_tick_in=4,
              major_label_overrides={t: "" for t in expr_ticks},
              major_label_text_font=FONT, major_label_text_font_size=FS, major_label_text_color=INK, label_standoff=8,
              minor_tick_line_color=None, bar_line_color=None, border_line_color=None, background_fill_color=None)
pb.add_layout(cb)
for t, px in zip(expr_ticks, (1193, 1225, 1247, 1273, 1301)):
    put(pb, xb, yb, px, 1551, str(t).replace("-", "\u2212"))

root = row(column(pa, pc, pd), pb)
open("out.html", "w").write(file_html(root, INLINE))
